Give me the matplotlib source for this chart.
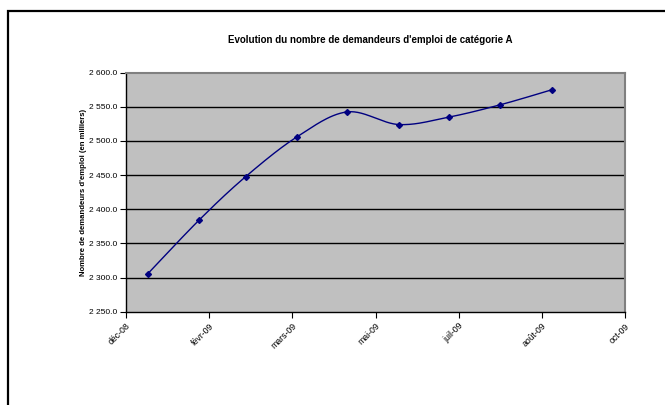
import matplotlib
matplotlib.use("Agg")
import matplotlib.pyplot as plt
import matplotlib.dates as mdates
from matplotlib.patches import Rectangle
import numpy as np
import datetime as dt

plt.rcParams['font.family'] = ['Liberation Sans', 'DejaVu Sans']

# Data
dates = [dt.date(2009, m, 1) for m in range(1, 10)]
values = [2305.3, 2384.3, 2447.9, 2506.4, 2542.6, 2524.1, 2534.9, 2553.0, 2575.0]
tick_dates = [dt.date(2008, 12, 19) + dt.timedelta(days=50 * i) for i in range(7)]
tick_labels = ["déc-08", "févr-09", "mars-09", "mai-09", "juil-09", "août-09", "oct-09"]
yticks = [2250, 2300, 2350, 2400, 2450, 2500, 2550, 2600]
title = "Evolution du nombre de demandeurs d'emploi de catégorie A"
ylabel = "Nombre de demandeurs d'emploi (en milliers)"

W, H = 665, 405
fig = plt.figure(figsize=(W / 100, H / 100), dpi=100)
fig.patch.set_facecolor('white')

# outer frame
fig.patches.append(Rectangle((7.5 / W, -0.05), 1.0, 1 - 11 / H + 0.05,
                             transform=fig.transFigure, fill=False,
                             edgecolor='black', linewidth=1.6, clip_on=False))

ax = fig.add_axes([126 / W, 1 - 311.7 / H, (625 - 126) / W, (311.7 - 72.7) / H])
ax.set_facecolor('#C0C0C0')

x = mdates.date2num(dates)
y = np.array(values)

# Smoothed line (Bezier smoothing like Excel)
xs, ys = [], []
n = len(x)
for i in range(n - 1):
    p0 = np.array([x[max(i - 1, 0)], y[max(i - 1, 0)]])
    p1 = np.array([x[i], y[i]])
    p2 = np.array([x[i + 1], y[i + 1]])
    p3 = np.array([x[min(i + 2, n - 1)], y[min(i + 2, n - 1)]])
    c1 = p1 + (p2 - p0) / 6
    c2 = p2 - (p3 - p1) / 6
    t = np.linspace(0, 1, 30)[:, None]
    seg = (1 - t) ** 3 * p1 + 3 * (1 - t) ** 2 * t * c1 + 3 * (1 - t) * t ** 2 * c2 + t ** 3 * p2
    xs.extend(seg[:, 0])
    ys.extend(seg[:, 1])

ax.plot(xs, ys, color='#000080', linewidth=1.0, zorder=3)
ax.plot(x, y, linestyle='none', marker='D', markersize=3.0, color='#000080', zorder=4)

ax.set_xlim(mdates.date2num(tick_dates[0]), mdates.date2num(tick_dates[-1]))
ax.set_ylim(2250, 2600)
ax.set_yticks(yticks)
ax.set_yticklabels([f"{v:,.1f}".replace(",", " ") for v in yticks])
ax.set_xticks(mdates.date2num(tick_dates))
ax.set_xticklabels(tick_labels, rotation=45, ha='right', va='top', rotation_mode='anchor')

for v in yticks[1:-1]:
    ax.axhline(v, color='black', linewidth=1.0, zorder=1)

ax.tick_params(axis='both', direction='out', length=4, width=0.8, labelsize=6, colors='black')
ax.tick_params(axis='x', labelsize=6.3, pad=3)
ax.tick_params(axis='y', pad=2)
for s in ['left', 'bottom']:
    ax.spines[s].set_color('black')
    ax.spines[s].set_linewidth(1.0)
for s in ['top', 'right']:
    ax.spines[s].set_color('#808080')
    ax.spines[s].set_linewidth(1.5)

ax.set_ylabel(ylabel, fontsize=5.6, fontweight='bold', labelpad=2)
fig.text(370 / W, 1 - 40 / H, title, ha='center', va='center', fontsize=7, fontweight='bold')

fig.savefig('out.png', dpi=100)
